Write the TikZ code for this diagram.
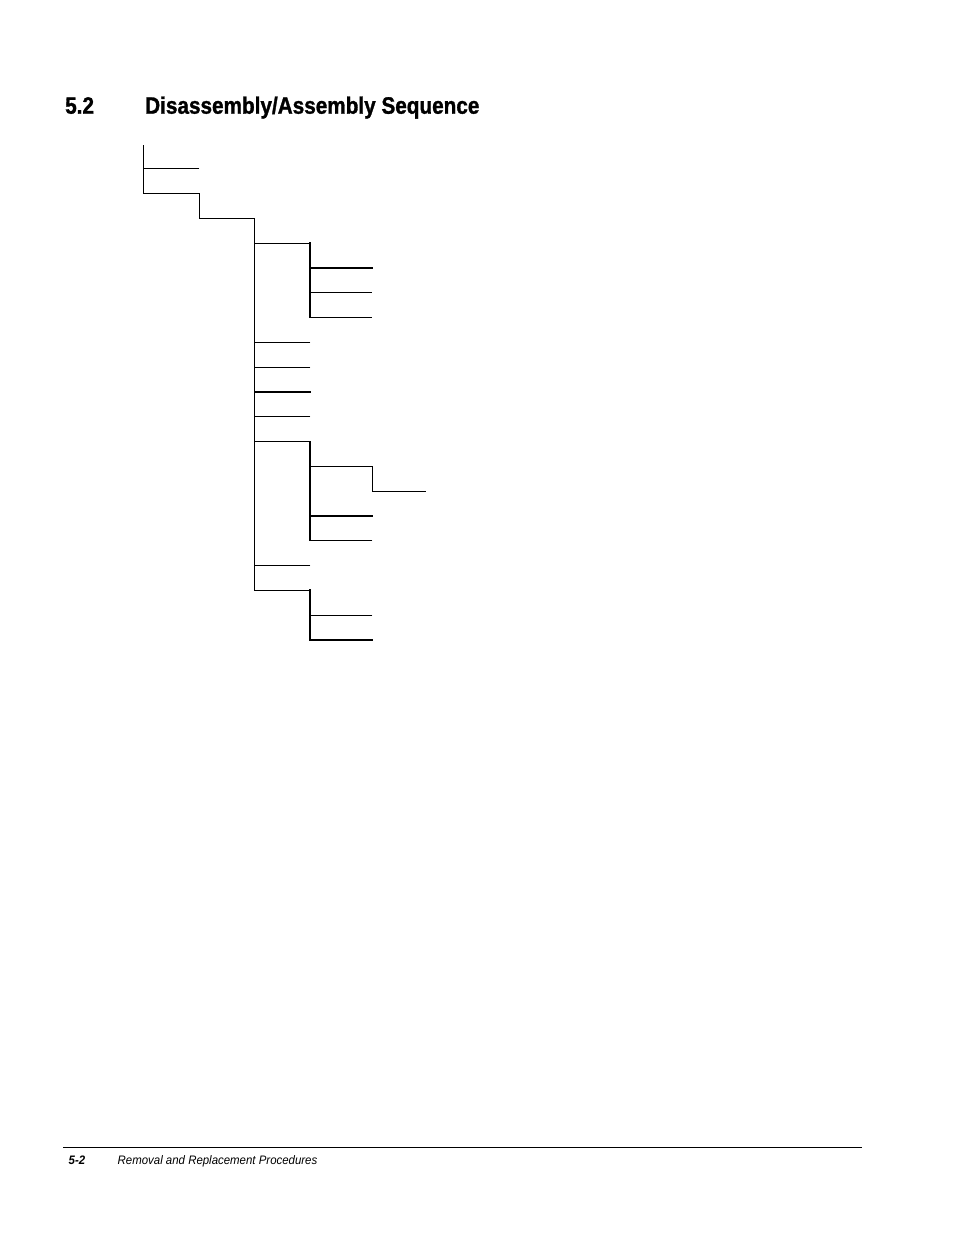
\documentclass[tikz,border=0pt]{standalone}
\usepackage{fontspec}
\setmainfont{Liberation Sans}
\newfontfamily\titlefont[FakeStretch=0.875,FakeBold=1.2]{Liberation Sans}
\newfontfamily\footfont[FakeStretch=0.93]{Liberation Sans}
\begin{document}
\begin{tikzpicture}[x=1pt,y=-1pt,
  thinln/.style={line width=0.9pt,line cap=rect},
  thickln/.style={line width=1.7pt,line cap=rect},
  ttl/.style={anchor=base west,inner sep=0pt,font=\titlefont\fontsize{23.7}{26}\selectfont\bfseries},
  foot/.style={anchor=base west,inner sep=0pt}]
\useasboundingbox (0,0) rectangle (954,1235);
% title
\node[ttl] (tnum) at (65,113.7) {5.2};
\node[ttl] (ttext) at (145,113.7) {Disassembly/Assembly Sequence};
% footer
\coordinate (fl) at (63,1147.4);
\coordinate (fr) at (862,1147.4);
\draw[line width=0.8pt] (fl) -- (fr);
\node[foot,font=\footfont\fontsize{12.3}{14}\selectfont\bfseries\itshape] (fnum) at (68.5,1164.3) {5-2};
\node[foot,font=\footfont\fontsize{12.3}{14}\selectfont\itshape] (ftext) at (117.5,1164.3) {Removal and Replacement Procedures};
% level 0
\coordinate (r0) at (143.5,145);
\coordinate (r1) at (143.5,168);
\coordinate (r1e) at (199,168);
\coordinate (r2) at (143.5,193);
\coordinate (r2e) at (199.5,193);
\coordinate (s0) at (199.5,218);
\coordinate (s0e) at (254.5,218);
\draw[thinln] (r0) -- (r2) -- (r2e) -- (s0) -- (s0e);
\draw[thinln] (r1) -- (r1e);
% main spine
\coordinate (m8) at (254.5,590);
\draw[thinln] (s0e) -- (m8);
% branch b1
\coordinate (b1) at (254.5,243.3);
\coordinate (b1e) at (310,243.3);
\coordinate (b1v) at (310,317.3);
\draw[thinln] (b1) -- (b1e);
\draw[thickln] (b1e) -- (b1v);
\coordinate (c1) at (310,267.7); \coordinate (c1e) at (371.7,267.7);
\coordinate (c2) at (310,292.3); \coordinate (c2e) at (371.7,292.3);
\coordinate (c3e) at (371.7,317.3);
\draw[thickln] (c1) -- (c1e);
\draw[thinln] (c2) -- (c2e);
\draw[thinln] (b1v) -- (c3e);
% simple branches
\coordinate (b2) at (254.5,342.3); \coordinate (b2e) at (310,342.3);
\coordinate (b3) at (254.5,367.3); \coordinate (b3e) at (310,367.3);
\coordinate (b4) at (254.5,392);   \coordinate (b4e) at (310,392);
\coordinate (b5) at (254.5,416.3); \coordinate (b5e) at (310,416.3);
\draw[thinln] (b2) -- (b2e);
\draw[thinln] (b3) -- (b3e);
\draw[thickln] (b4) -- (b4e);
\draw[thinln] (b5) -- (b5e);
% branch b6
\coordinate (b6) at (254.5,441.7); \coordinate (b6e) at (310,441.7);
\coordinate (b6v) at (310,540);
\draw[thinln] (b6) -- (b6e);
\draw[thickln] (b6e) -- (b6v);
\coordinate (d1) at (310,466.7); \coordinate (d1e) at (372.7,466.7);
\coordinate (d1v) at (372.7,491); \coordinate (d1f) at (425.7,491);
\draw[thinln] (d1) -- (d1e) -- (d1v) -- (d1f);
\coordinate (d2) at (310,515.7); \coordinate (d2e) at (372,515.7);
\coordinate (d3e) at (372,540);
\draw[thickln] (d2) -- (d2e);
\draw[thinln] (b6v) -- (d3e);
% b7
\coordinate (b7) at (254.5,565); \coordinate (b7e) at (310,565);
\draw[thinln] (b7) -- (b7e);
% b8
\coordinate (b8e) at (310,590);
\coordinate (b8v) at (310,640);
\draw[thinln] (m8) -- (b8e);
\draw[thickln] (b8e) -- (b8v);
\coordinate (e1) at (310,615); \coordinate (e1e) at (372,615);
\coordinate (e2e) at (372,640);
\draw[thinln] (e1) -- (e1e);
\draw[thickln] (b8v) -- (e2e);
\end{tikzpicture}
\end{document}
